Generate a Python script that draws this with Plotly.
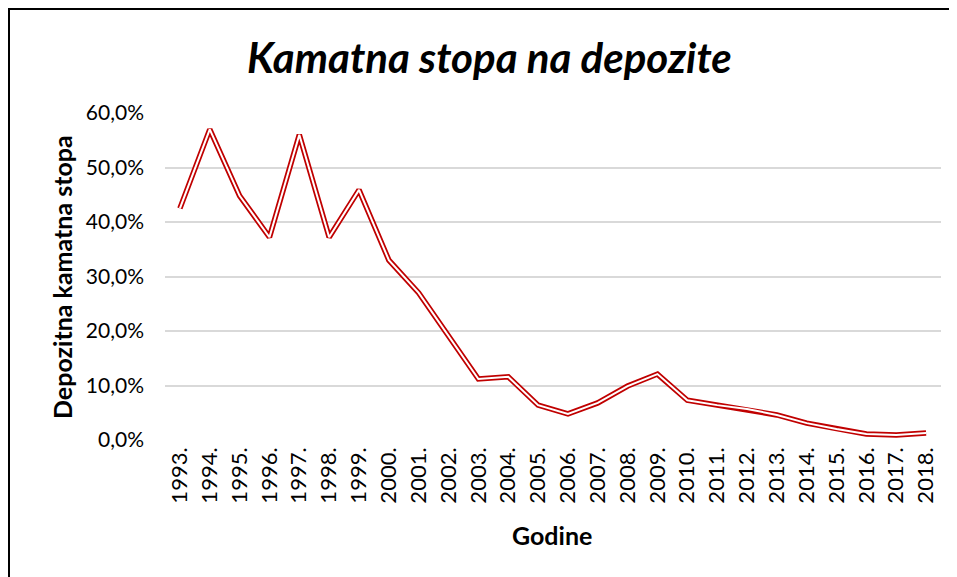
import plotly.graph_objects as go

years = ["1993.", "1994.", "1995.", "1996.", "1997.", "1998.", "1999.", "2000.", "2001.",
         "2002.", "2003.", "2004.", "2005.", "2006.", "2007.", "2008.", "2009.", "2010.",
         "2011.", "2012.", "2013.", "2014.", "2015.", "2016.", "2017.", "2018."]
rates = [42.5, 57.0, 44.8, 37.2, 56.0, 37.2, 45.9, 33.0, 27.0,
         19.0, 11.2, 11.6, 6.4, 4.8, 6.8, 9.9, 12.1, 7.3,
         6.4, 5.7, 4.6, 3.1, 2.0, 1.1, 0.9, 1.3]
y_ticks = [0, 10, 20, 30, 40, 50, 60]
y_tick_labels = ["0,0%", "10,0%", "20,0%", "30,0%", "40,0%", "50,0%", "60,0%"]

title_text = "Kamatna stopa na depozite"
x_title = "Godine"
y_title = "Depozitna kamatna stopa"

FONT = "Lato"
OFF = 8  # page body margin
W, H = 957, 577
L, R, T, B = 165 - OFF, W - (941 - OFF), 113 - OFF, H - (440 - OFF)
pw, ph = W - L - R, H - T - B

fig = go.Figure()
fig.add_trace(go.Scatter(x=years, y=rates, mode="lines",
                         line=dict(color="#c00000", width=5.5), hoverinfo="skip", showlegend=False))
fig.add_trace(go.Scatter(x=years, y=rates, mode="lines",
                         line=dict(color="white", width=2), showlegend=False))

def px_x(px):
    return (px - OFF - L) / pw

def px_y(py):
    return (H - B - (py - OFF)) / ph

# chart frame (left and top borders visible)
fig.add_shape(type="line", xref="paper", yref="paper", x0=px_x(8.5), x1=px_x(8.5),
              y0=px_y(7.5), y1=px_y(620), line=dict(color="black", width=3))
fig.add_shape(type="line", xref="paper", yref="paper", x0=px_x(7), x1=px_x(990),
              y0=px_y(8.5), y1=px_y(8.5), line=dict(color="black", width=3))

fig.add_annotation(text=f"<b><i>{title_text}</i></b>", xref="paper", yref="paper",
                   x=px_x(489), y=px_y(57), showarrow=False,
                   font=dict(family=FONT, size=42, color="black"), xanchor="center", yanchor="middle")
fig.add_annotation(text=f"<b>{y_title}</b>", xref="paper", yref="paper",
                   x=px_x(62), y=px_y(277), showarrow=False, textangle=-90,
                   font=dict(family=FONT, size=25, color="black"), xanchor="center", yanchor="middle")
fig.add_annotation(text=f"<b>{x_title}</b>", xref="paper", yref="paper",
                   x=px_x(552), y=px_y(535), showarrow=False,
                   font=dict(family=FONT, size=25, color="black"), xanchor="center", yanchor="middle")

fig.update_layout(
    width=W, height=H,
    margin=dict(l=L, r=R, t=T, b=B),
    paper_bgcolor="white", plot_bgcolor="white",
    font=dict(family=FONT, color="black"),
)
fig.update_xaxes(type="category", showgrid=False, showline=False, ticks="",
                 tickangle=-90, tickfont=dict(family=FONT, size=22, color="black"),
                 ticklabelstandoff=2, range=[-0.5, len(years) - 0.5], fixedrange=True)
fig.update_yaxes(range=[0, 60], tickvals=y_ticks, ticktext=y_tick_labels,
                 showgrid=True, gridcolor="#d9d9d9", gridwidth=2, zeroline=False, showline=False,
                 tickfont=dict(family=FONT, size=21, color="black"), ticklabelstandoff=20, fixedrange=True)

fig.write_html("out.html")
